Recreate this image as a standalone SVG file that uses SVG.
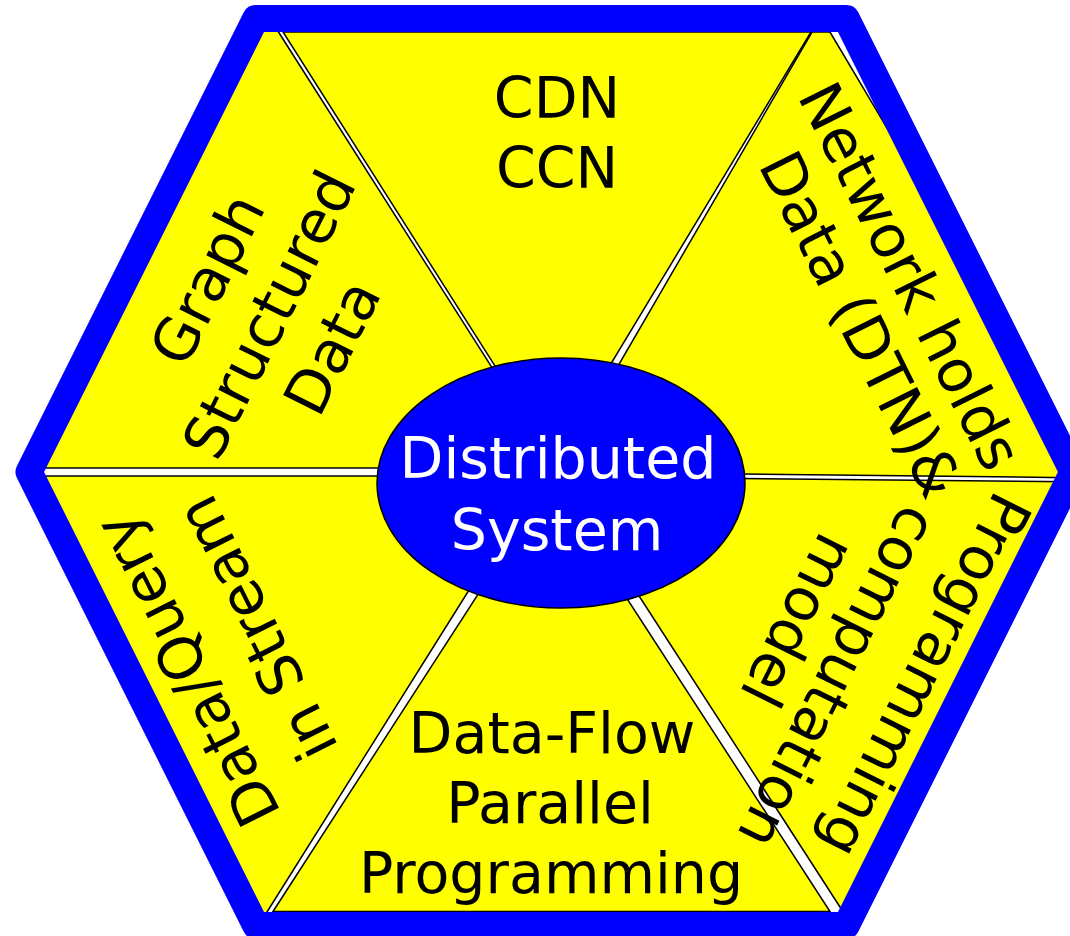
<svg xmlns="http://www.w3.org/2000/svg" width="1070" height="936" viewBox="0 0 1070 936">
<defs>
<style>
.tri{fill:#ffff00;stroke:#000;stroke-width:1.5;stroke-linejoin:miter}
.lbl{font-family:"DejaVu Sans","Liberation Sans",sans-serif;font-size:57px;fill:#000;text-anchor:middle}
.rot{font-size:59px}
.wl{fill:#fff}
</style>
<clipPath id="hexclip">
<polygon points="255.7,18.5 846.3,18.5 1073,472 846.3,925.5 255.7,925.5 29,472"/>
</clipPath>
</defs>
<rect width="1070" height="936" fill="#fff"/>
<g id="segments" clip-path="url(#hexclip)">
<g id="seg-top"><polygon class="tri" points="283,32 811,32 565,440 542,440"/></g>
<g id="seg-ne"><polygon class="tri" points="812,32 830,32 1095,478 600,472.3 575,440"/></g>
<g id="seg-se"><polygon class="tri" points="590,520 600,477.1 1100,482 855,930 840,907"/></g>
<g id="seg-bottom"><polygon class="tri" points="273,911.5 526,520 576,520 830,911.5"/></g>
<g id="seg-sw"><polygon class="tri" points="5,476 540,476 513,520 267,912 240,950"/></g>
<g id="seg-nw"><polygon class="tri" points="278.5,32 538,440 545,468 5,468 240,5 278.5,5"/></g>
</g>
<g id="frame"><polygon points="255.7,18.5 846.3,18.5 1073,472 846.3,925.5 255.7,925.5 29,472" fill="none" stroke="#0000ff" stroke-width="27" stroke-linejoin="round"/></g>
<g id="center"><ellipse cx="561" cy="483" rx="184" ry="125" fill="#0000ff" stroke="#000" stroke-width="1.5"/>
<text class="lbl wl" x="558" y="478">Distributed</text>
<text class="lbl wl" x="557" y="550">System</text></g>
<g id="label-top"><text class="lbl" x="557" y="118">CDN</text><text class="lbl" x="557" y="188">CCN</text></g>
<g id="label-bottom"><text class="lbl" x="552" y="753">Data-Flow</text><text class="lbl" x="550" y="823">Parallel</text><text class="lbl" x="551" y="893">Programming</text></g>
<g id="label-nw" transform="rotate(-63.43)"><text class="lbl rot" x="-157" y="331">Graph</text><text class="lbl rot" x="-161" y="402">Structured</text><text class="lbl rot" x="-162" y="473">Data</text></g>
<g id="label-ne" transform="rotate(63.43)"><text class="lbl rot" x="654" y="-670">Network holds</text><text class="lbl rot" x="675" y="-604">Data (DTN)&amp;</text></g>
<g id="label-se" transform="rotate(116.57)"><text class="lbl rot" x="190" y="-1109">Programming</text><text class="lbl rot" x="231" y="-1032">computation</text><text class="lbl rot" x="198" y="-971">model</text></g>
<g id="label-sw" transform="rotate(-116.57)"><text class="lbl rot" x="-683" y="-112">Data/Query</text><text class="lbl rot" x="-677" y="-31">in Stream</text></g>
</svg>
